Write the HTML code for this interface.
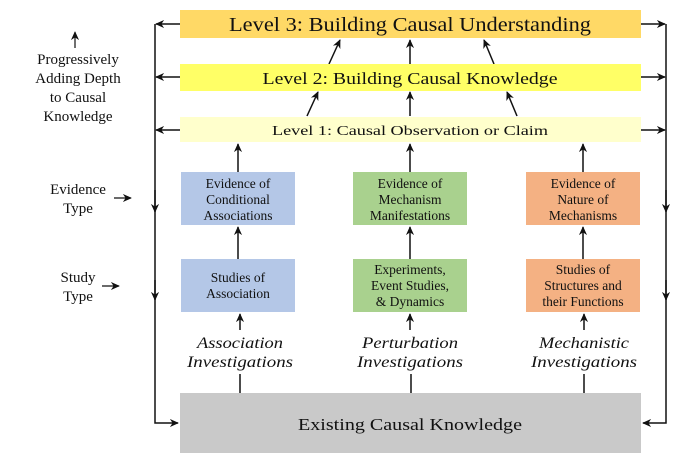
<!DOCTYPE html>
<html><head><meta charset="utf-8"><style>
html,body{margin:0;padding:0;background:#fff;}
svg{display:block;font-family:"Liberation Serif",serif;}
</style></head><body>
<svg width="689" height="459" viewBox="0 0 689 459" xmlns="http://www.w3.org/2000/svg">
<defs>
<marker id="a" viewBox="0 0 10 10" refX="9" refY="5" markerWidth="9" markerHeight="9" orient="auto-start-reverse" markerUnits="userSpaceOnUse">
<path d="M0,0.5 L10,5 L0,9.5 L3,5 Z" fill="#111"/>
</marker>
</defs>
<g fill="none" stroke="#111" stroke-width="1.5">
<path d="M155,24 V423 H178" marker-end="url(#a)"/>
<line x1="180" y1="24" x2="156" y2="24" marker-end="url(#a)"/>
<line x1="180" y1="77" x2="156" y2="77" marker-end="url(#a)"/>
<line x1="180" y1="130" x2="156" y2="130" marker-end="url(#a)"/>
<line x1="155" y1="190" x2="155" y2="212" marker-end="url(#a)"/>
<line x1="155" y1="280" x2="155" y2="300" marker-end="url(#a)"/>
<path d="M666,24 V423 H643" marker-end="url(#a)"/>
<line x1="641" y1="24" x2="665" y2="24" marker-end="url(#a)"/>
<line x1="641" y1="77" x2="665" y2="77" marker-end="url(#a)"/>
<line x1="641" y1="130" x2="665" y2="130" marker-end="url(#a)"/>
<line x1="666" y1="190" x2="666" y2="212" marker-end="url(#a)"/>
<line x1="666" y1="280" x2="666" y2="300" marker-end="url(#a)"/>
<line x1="329" y1="64" x2="340" y2="40" marker-end="url(#a)"/>
<line x1="410" y1="64" x2="410" y2="40" marker-end="url(#a)"/>
<line x1="494" y1="64" x2="484" y2="40" marker-end="url(#a)"/>
<line x1="307" y1="116" x2="318" y2="92" marker-end="url(#a)"/>
<line x1="410" y1="116" x2="410" y2="92" marker-end="url(#a)"/>
<line x1="517" y1="116" x2="507" y2="92" marker-end="url(#a)"/>
<line x1="238" y1="172" x2="238" y2="144" marker-end="url(#a)"/>
<line x1="410" y1="172" x2="410" y2="144" marker-end="url(#a)"/>
<line x1="583" y1="172" x2="583" y2="144" marker-end="url(#a)"/>
<line x1="238" y1="259" x2="238" y2="227" marker-end="url(#a)"/>
<line x1="410" y1="259" x2="410" y2="227" marker-end="url(#a)"/>
<line x1="583" y1="259" x2="583" y2="227" marker-end="url(#a)"/>
<line x1="240" y1="330" x2="240" y2="314" marker-end="url(#a)"/>
<line x1="410" y1="330" x2="410" y2="314" marker-end="url(#a)"/>
<line x1="584" y1="330" x2="584" y2="314" marker-end="url(#a)"/>
<line x1="240" y1="374" x2="240" y2="393"/>
<line x1="411" y1="374" x2="411" y2="393"/>
<line x1="584" y1="374" x2="584" y2="393"/>
<line x1="75" y1="48" x2="75" y2="32" stroke-width="1.2" marker-end="url(#a)"/>
<line x1="114" y1="198" x2="131" y2="198" stroke-width="1.2" marker-end="url(#a)"/>
<line x1="102" y1="286" x2="119" y2="286" stroke-width="1.2" marker-end="url(#a)"/>
</g>
<rect x="180" y="10" width="461" height="28" fill="#FFD966"/>
<rect x="180" y="64" width="461" height="27" fill="#FFFF66"/>
<rect x="180" y="117" width="461" height="25" fill="#FFFFCC"/>
<rect x="181" y="172" width="114" height="53" fill="#B4C7E7"/>
<rect x="353" y="172" width="114" height="53" fill="#A9D18E"/>
<rect x="526" y="172" width="114" height="53" fill="#F4B183"/>
<rect x="181" y="259" width="114" height="53" fill="#B4C7E7"/>
<rect x="353" y="259" width="114" height="53" fill="#A9D18E"/>
<rect x="526" y="259" width="114" height="53" fill="#F4B183"/>
<rect x="180" y="393" width="461" height="60" fill="#C9C9C9"/>
<g fill="#111" text-anchor="middle">
<text x="410" y="31" font-size="20" textLength="362" lengthAdjust="spacingAndGlyphs">Level 3: Building Causal Understanding</text>
<text x="410" y="84" font-size="17" textLength="295" lengthAdjust="spacingAndGlyphs">Level 2: Building Causal Knowledge</text>
<text x="410" y="135" font-size="14" textLength="276" lengthAdjust="spacingAndGlyphs">Level 1: Causal Observation or Claim</text>
<text x="410" y="430" font-size="17" textLength="224" lengthAdjust="spacingAndGlyphs">Existing Causal Knowledge</text>
<g font-size="13.5">
<text x="238" y="188">Evidence of</text><text x="238" y="204">Conditional</text><text x="238" y="220">Associations</text>
<text x="410" y="188">Evidence of</text><text x="410" y="204">Mechanism</text><text x="410" y="220">Manifestations</text>
<text x="583" y="188">Evidence of</text><text x="583" y="204">Nature of</text><text x="583" y="220">Mechanisms</text>
<text x="238" y="282">Studies of</text><text x="238" y="298">Association</text>
<text x="410" y="274">Experiments,</text><text x="410" y="290">Event Studies,</text><text x="410" y="306">&amp; Dynamics</text>
<text x="583" y="274">Studies of</text><text x="583" y="290">Structures and</text><text x="583" y="306">their Functions</text>
</g>
<g font-size="15.5" font-style="italic">
<text x="240" y="348" textLength="86" lengthAdjust="spacingAndGlyphs">Association</text><text x="240" y="367" textLength="106" lengthAdjust="spacingAndGlyphs">Investigations</text>
<text x="410" y="348" textLength="96" lengthAdjust="spacingAndGlyphs">Perturbation</text><text x="410" y="367" textLength="106" lengthAdjust="spacingAndGlyphs">Investigations</text>
<text x="584" y="348" textLength="90" lengthAdjust="spacingAndGlyphs">Mechanistic</text><text x="584" y="367" textLength="106" lengthAdjust="spacingAndGlyphs">Investigations</text>
</g>
<g font-size="15">
<text x="78" y="64">Progressively</text>
<text x="78" y="83">Adding Depth</text>
<text x="78" y="102">to Causal</text>
<text x="78" y="121">Knowledge</text>
<text x="78" y="194">Evidence</text>
<text x="78" y="213">Type</text>
<text x="78" y="282">Study</text>
<text x="78" y="301">Type</text>
</g>
</g>
</svg>
</body></html>
